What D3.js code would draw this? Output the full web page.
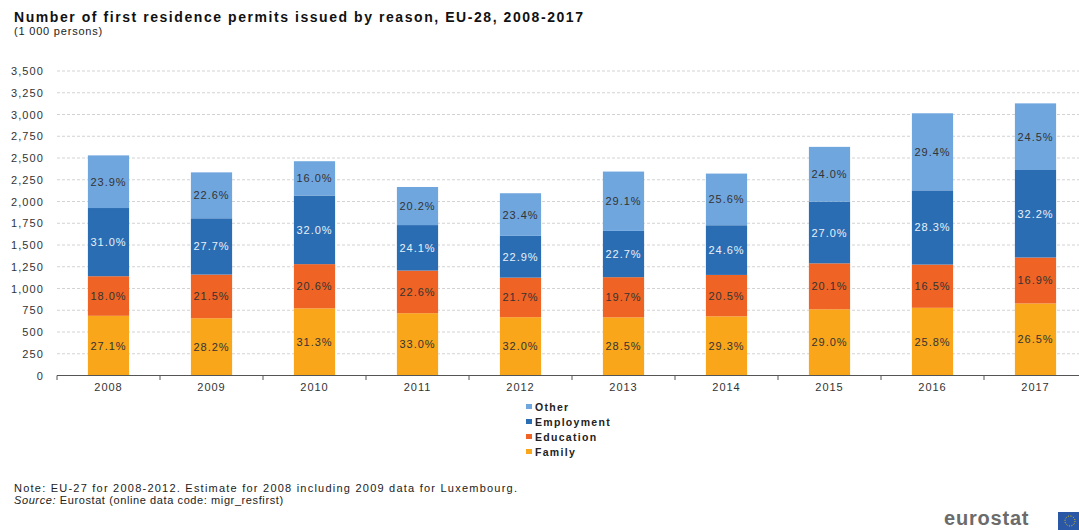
<!DOCTYPE html>
<html>
<head>
<meta charset="utf-8">
<script src="https://cdnjs.cloudflare.com/ajax/libs/d3/7.8.5/d3.min.js"></script>
<style>
  body {margin: 0; background: #fff;}
  svg {display: block; font-family: "Liberation Sans", Arial, sans-serif;}
</style>
</head>
<body>
<div class="chartWrap"></div>
<script>
//Data (1 000 persons) and shares shown on the bars
const years = ["2008", "2009", "2010", "2011", "2012", "2013", "2014", "2015", "2016", "2017"];
const reasons = ["Family", "Education", "Employment", "Other"];
const family     = [686, 658, 772, 716, 670, 668, 680, 761, 778, 828];
const education  = [455, 502, 508, 490, 455, 462, 476, 528, 497, 528];
const employment = [784, 647, 789, 523, 480, 532, 571, 709, 853, 1006];
const other      = [605, 528, 394, 438, 490, 682, 594, 630, 886, 766];
const familyPct     = ["27.1%", "28.2%", "31.3%", "33.0%", "32.0%", "28.5%", "29.3%", "29.0%", "25.8%", "26.5%"];
const educationPct  = ["18.0%", "21.5%", "20.6%", "22.6%", "21.7%", "19.7%", "20.5%", "20.1%", "16.5%", "16.9%"];
const employmentPct = ["31.0%", "27.7%", "32.0%", "24.1%", "22.9%", "22.7%", "24.6%", "27.0%", "28.3%", "32.2%"];
const otherPct      = ["23.9%", "22.6%", "16.0%", "20.2%", "23.4%", "29.1%", "25.6%", "24.0%", "29.4%", "24.5%"];
const yTicks = [0, 250, 500, 750, 1000, 1250, 1500, 1750, 2000, 2250, 2500, 2750, 3000, 3250, 3500];

const colors = {Family: "#f9a61a", Education: "#ef6424", Employment: "#2a6db3", Other: "#70a6de"};
const labelColors = {Family: "#333", Education: "#333", Employment: "#e9f0f8", Other: "#333"};

const w = 1079, h = 530;
const series = {Family: family, Education: education, Employment: employment, Other: other};
const pcts = {Family: familyPct, Education: educationPct, Employment: employmentPct, Other: otherPct};

//Table for d3.stack
let table = years.map(function(y, i) {
  let row = {year: y};
  reasons.forEach(function(r) {row[r] = series[r][i];});
  return row;
});

let svg = d3.select(".chartWrap").append("svg").attr("width", w).attr("height", h);

//Title
svg.append("text").text("Number of first residence permits issued by reason, EU-28, 2008-2017")
  .attr("x", 14).attr("y", 22).attr("font-size", 14).attr("font-weight", "bold").attr("fill", "#111")
  .attr("textLength", 569).attr("lengthAdjust", "spacing");
svg.append("text").text("(1 000 persons)").attr("x", 14).attr("y", 35).attr("font-size", 11)
  .attr("fill", "#222").attr("letter-spacing", 0.8);

//Scales
let x = d3.scaleBand().domain(years).range([57, 1087]).paddingInner(0.6).paddingOuter(0.3);
let y = d3.scaleLinear().domain([0, 3500]).range([375.5, 71]);

//Grid
svg.append("g").selectAll("line").data(yTicks.filter(function(t) {return t > 0;})).enter()
  .append("line")
  .attr("x1", 57).attr("x2", w).attr("y1", function(d) {return y(d);}).attr("y2", function(d) {return y(d);})
  .attr("stroke", "#c8c8c8").attr("stroke-dasharray", "3,2").attr("stroke-width", 0.8);

//Y axis labels
let yAxis = svg.append("g").attr("transform", "translate(47,0)")
  .call(d3.axisLeft(y).tickValues(yTicks).tickSize(0).tickPadding(3).tickFormat(d3.format(",")));
yAxis.select(".domain").remove();
yAxis.selectAll("text").attr("font-size", 11).attr("fill", "#333").attr("letter-spacing", 1.1)
  .attr("font-family", "Liberation Sans, Arial, sans-serif");

//Stacked bars
let stack = d3.stack().keys(reasons)(table);
let layer = svg.append("g").selectAll("g").data(stack).enter().append("g")
  .attr("fill", function(d) {return colors[d.key];});
layer.selectAll("rect").data(function(d) {return d;}).enter().append("rect")
  .attr("x", function(d) {return x(d.data.year);})
  .attr("width", x.bandwidth())
  .attr("y", function(d) {return y(d[1]);})
  .attr("height", function(d) {return y(d[0]) - y(d[1]);});

//Share labels
let lab = svg.append("g").selectAll("g").data(stack).enter().append("g");
lab.selectAll("text").data(function(d) {return d.map(function(p, i) {return {p: p, key: d.key, i: i};});}).enter()
  .append("text")
  .text(function(d) {return pcts[d.key][d.i];})
  .attr("x", function(d) {return x(d.p.data.year) + x.bandwidth() / 2;})
  .attr("y", function(d) {return (y(d.p[0]) + y(d.p[1])) / 2 + 4;})
  .attr("text-anchor", "middle").attr("font-size", 11).attr("letter-spacing", 1)
  .attr("fill", function(d) {return labelColors[d.key];});

//X axis
let xAxis = svg.append("g").attr("transform", "translate(0,375.5)")
  .call(d3.axisBottom(x).tickSize(0).tickPadding(8));
xAxis.select(".domain").remove();
xAxis.selectAll("text").attr("font-size", 11).attr("fill", "#333").attr("letter-spacing", 1)
  .attr("font-family", "Liberation Sans, Arial, sans-serif");
svg.append("line").attr("x1", 57).attr("x2", w).attr("y1", 375.5).attr("y2", 375.5)
  .attr("stroke", "#555").attr("stroke-width", 1);
//Ticks between categories
svg.append("g").selectAll("line").data(years).enter().append("line")
  .attr("x1", function(d) {return x(d) - x.step() * x.paddingInner() / 2;})
  .attr("x2", function(d) {return x(d) - x.step() * x.paddingInner() / 2;})
  .attr("y1", 375.5).attr("y2", 380)
  .attr("stroke", "#555");

//Legend
let legend = svg.append("g").selectAll("g").data(reasons.slice().reverse()).enter().append("g")
  .attr("transform", function(d, i) {return "translate(526," + (407 + i * 15) + ")";});
legend.append("rect").attr("x", 0).attr("y", -3).attr("width", 6).attr("height", 5)
  .attr("fill", function(d) {return colors[d];});
legend.append("text").text(function(d) {return d;}).attr("x", 9).attr("y", 3.5)
  .attr("font-size", 10.5).attr("font-weight", "bold").attr("fill", "#222").attr("letter-spacing", 1.3);

//Footer
svg.append("text").text("Note: EU-27 for 2008-2012. Estimate for 2008 including 2009 data for Luxembourg.")
  .attr("x", 14).attr("y", 492).attr("font-size", 11).attr("fill", "#222")
  .attr("textLength", 503).attr("lengthAdjust", "spacing");
let src = svg.append("text").attr("x", 14).attr("y", 504).attr("font-size", 11).attr("fill", "#222").attr("letter-spacing", 0.6);
src.append("tspan").text("Source:").attr("font-style", "italic");
src.append("tspan").text(" Eurostat (online data code: migr_resfirst)");

//Logo
svg.append("text").text("eurostat").attr("x", 944).attr("y", 525).attr("font-size", 20)
  .attr("font-weight", "bold").attr("fill", "#6b6b6b").attr("letter-spacing", 0.8);
svg.append("rect").attr("x", 1058).attr("y", 512).attr("width", 21).attr("height", 18).attr("fill", "#2a57a6");
svg.append("circle").attr("cx", 1070).attr("cy", 521).attr("r", 5).attr("fill", "none")
  .attr("stroke", "#f3d200").attr("stroke-width", 1).attr("stroke-dasharray", "1,1.6");
</script>
</body>
</html>
